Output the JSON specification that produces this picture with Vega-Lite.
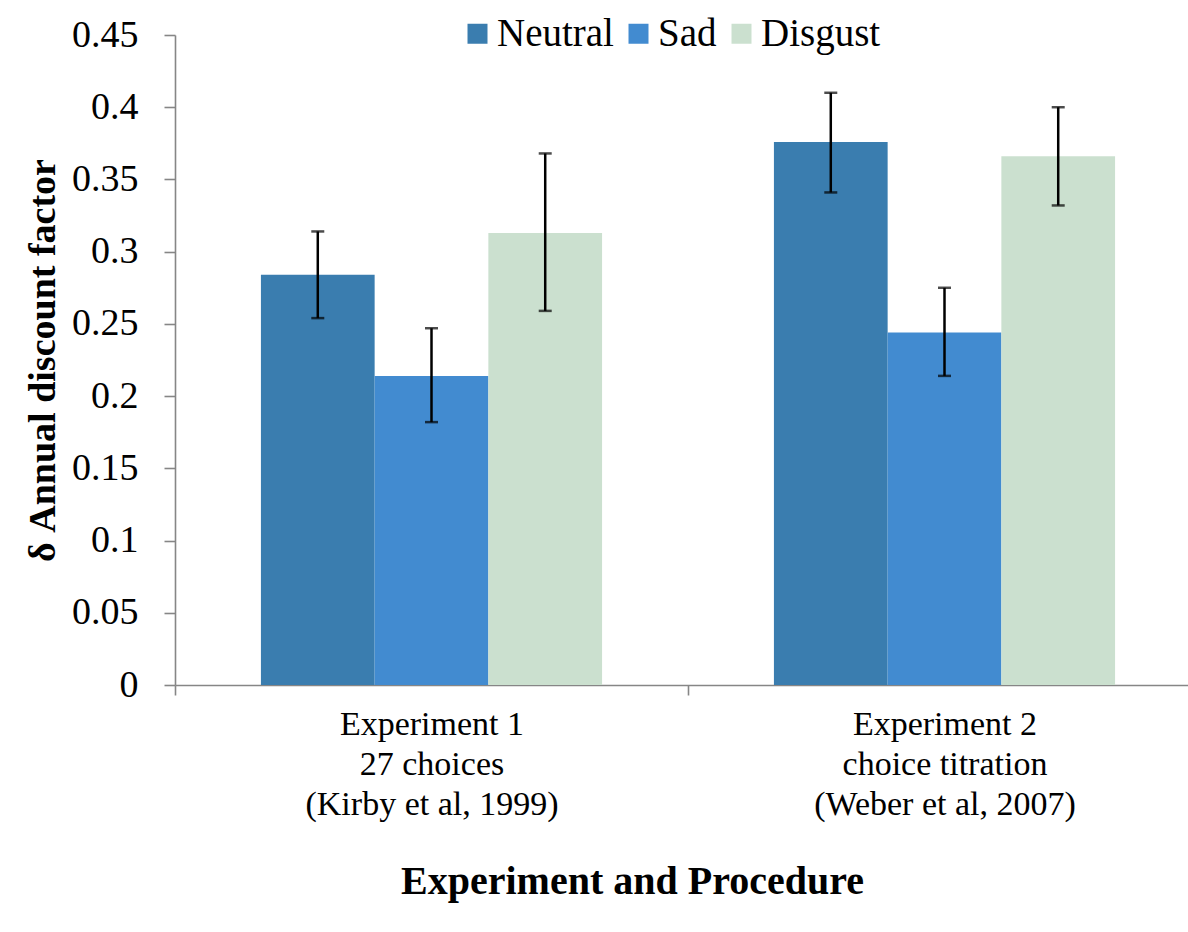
{
  "$schema": "https://vega.github.io/schema/vega-lite/v6.json",
  "width": 1013,
  "height": 650,
  "autosize": {"type": "none"},
  "padding": {"left": 175, "top": 35, "right": 0, "bottom": 247},
  "background": "white",
  "config": {
    "view": {"stroke": null},
    "font": "Liberation Serif",
    "axis": {"domainColor": "#868686", "tickColor": "#868686", "domainWidth": 1.6, "tickWidth": 1.6, "labelColor": "black", "titleColor": "black", "grid": false}
  },
  "data": {
    "values": [
      {"exp": "Experiment 1|27 choices|(Kirby et al, 1999)", "cond": "Neutral", "mean": 0.284, "lo": 0.254, "hi": 0.314},
      {"exp": "Experiment 1|27 choices|(Kirby et al, 1999)", "cond": "Sad", "mean": 0.214, "lo": 0.182, "hi": 0.247},
      {"exp": "Experiment 1|27 choices|(Kirby et al, 1999)", "cond": "Disgust", "mean": 0.313, "lo": 0.259, "hi": 0.368},
      {"exp": "Experiment 2|choice titration|(Weber et al, 2007)", "cond": "Neutral", "mean": 0.376, "lo": 0.341, "hi": 0.41},
      {"exp": "Experiment 2|choice titration|(Weber et al, 2007)", "cond": "Sad", "mean": 0.244, "lo": 0.214, "hi": 0.275},
      {"exp": "Experiment 2|choice titration|(Weber et al, 2007)", "cond": "Disgust", "mean": 0.366, "lo": 0.332, "hi": 0.4}
    ]
  },
  "encoding": {
    "x": {
      "field": "exp", "type": "nominal", "sort": null,
      "scale": {"range": [0, 1026], "paddingInner": 0.335, "paddingOuter": 0.1675},
      "axis": {
        "labelExpr": "split(datum.label, '|')",
        "labelAngle": 0,
        "labelFontSize": 34,
        "labelLineHeight": 40,
        "labelPadding": 12,
        "labelLimit": 500,
        "tickOffset": -256.5,
        "labelOffset": 256.5,
        "tickSize": 10,
        "title": "Experiment and Procedure",
        "titleFontSize": 40,
        "titleFontWeight": "bold",
        "titleX": 457,
        "titleY": 208,
        "titleAlign": "center",
        "titleBaseline": "alphabetic"
      }
    },
    "xOffset": {"field": "cond", "type": "nominal", "sort": ["Neutral", "Sad", "Disgust"], "scale": {"paddingInner": 0, "paddingOuter": 0}}
  },
  "layer": [
    {
      "mark": {"type": "bar"},
      "encoding": {
        "y": {
          "field": "mean", "type": "quantitative",
          "scale": {"domain": [0, 0.45], "nice": false, "zero": true},
          "axis": {
            "values": [0, 0.05, 0.1, 0.15, 0.2, 0.25, 0.3, 0.35, 0.4, 0.45],
            "format": "~g",
            "labelFontSize": 38,
            "labelPadding": 26,
            "tickSize": 11,
            "title": "δ Annual discount factor",
            "titleFontSize": 38,
            "titleFontWeight": "bold",
            "titleX": -121,
            "titleY": 325,
            "titleAngle": -90,
            "titleAlign": "center",
            "titleBaseline": "alphabetic"
          }
        },
        "color": {
          "field": "cond", "type": "nominal",
          "scale": {"domain": ["Neutral", "Sad", "Disgust"], "range": ["#3A7DAF", "#428BD0", "#CBE0CF"]},
          "legend": {
            "orient": "none",
            "legendX": 283,
            "legendY": -21,
            "direction": "horizontal",
            "columns": 3,
            "title": null,
            "symbolType": "square",
            "symbolSize": 400,
            "symbolStrokeWidth": 0,
            "labelFontSize": 39,
            "labelColor": "black",
            "labelOffset": 0,
            "columnPadding": 5,
            "labelLimit": 400
          }
        }
      }
    },
    {
      "mark": {"type": "rule", "color": "black", "strokeWidth": 2.5},
      "encoding": {
        "y": {"field": "lo", "type": "quantitative", "title": "δ Annual discount factor"},
        "y2": {"field": "hi"}
      }
    },
    {
      "mark": {"type": "tick", "color": "black", "size": 13, "thickness": 2.5},
      "encoding": {
        "y": {"field": "lo", "type": "quantitative", "title": "δ Annual discount factor"}
      }
    },
    {
      "mark": {"type": "tick", "color": "black", "size": 13, "thickness": 2.5},
      "encoding": {
        "y": {"field": "hi", "type": "quantitative", "title": "δ Annual discount factor"}
      }
    }
  ]
}
